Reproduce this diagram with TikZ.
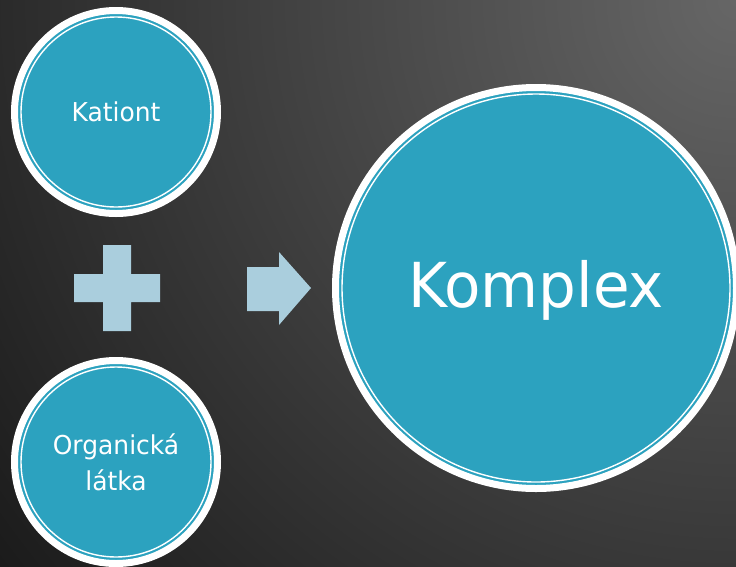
\documentclass[tikz,border=0pt]{standalone}
\usepackage{fontspec}
\setmainfont{DejaVu Sans}[FakeStretch=0.96]
\definecolor{tealfill}{HTML}{2CA2BF}
\definecolor{symblue}{HTML}{AACEDD}
\definecolor{bglight}{HTML}{666666}
\definecolor{bgdark}{HTML}{1A1A1A}
\begin{document}
\begin{tikzpicture}[x=1pt,y=-1pt,
  bubble/.style={circle, fill=tealfill, draw=white, line width=7pt, text=white, inner sep=0pt, align=center},
  smallbubble/.style={bubble, minimum size=203pt, font=\fontsize{26}{36}\selectfont},
  bigbubble/.style={bubble, minimum size=401pt, font=\fontsize{62}{70}\selectfont, text depth=7.6pt},
  innerring/.style={draw=white, line width=1.4pt},
  symbol/.style={fill=symblue}]
\useasboundingbox (0,0) rectangle (736,566);
\begin{scope}
  \clip (0,0) rectangle (736,566);
  \shade[inner color=bglight, outer color=bgdark] (736,0) circle (940pt);
\end{scope}
\node[smallbubble] (kationt) at (116,112) {Kationt};
\draw[innerring] (kationt.center) circle (95pt);
\node[smallbubble] (organic) at (116,462) {Organická\\látka};
\draw[innerring] (organic.center) circle (95pt);
\node[bigbubble] (komplex) at (536,288) {Komplex};
\draw[innerring] (komplex.center) circle (194pt);
% plus sign
\fill[symbol] (103,245) -- (131,245) -- (131,274) -- (160,274) -- (160,302) -- (131,302)
  -- (131,331) -- (103,331) -- (103,302) -- (74,302) -- (74,274) -- (103,274) -- cycle;
% arrow
\fill[symbol] (247,267) -- (279,267) -- (279,252) -- (311,288) -- (279,325) -- (279,311)
  -- (247,311) -- cycle;
\end{tikzpicture}
\end{document}
